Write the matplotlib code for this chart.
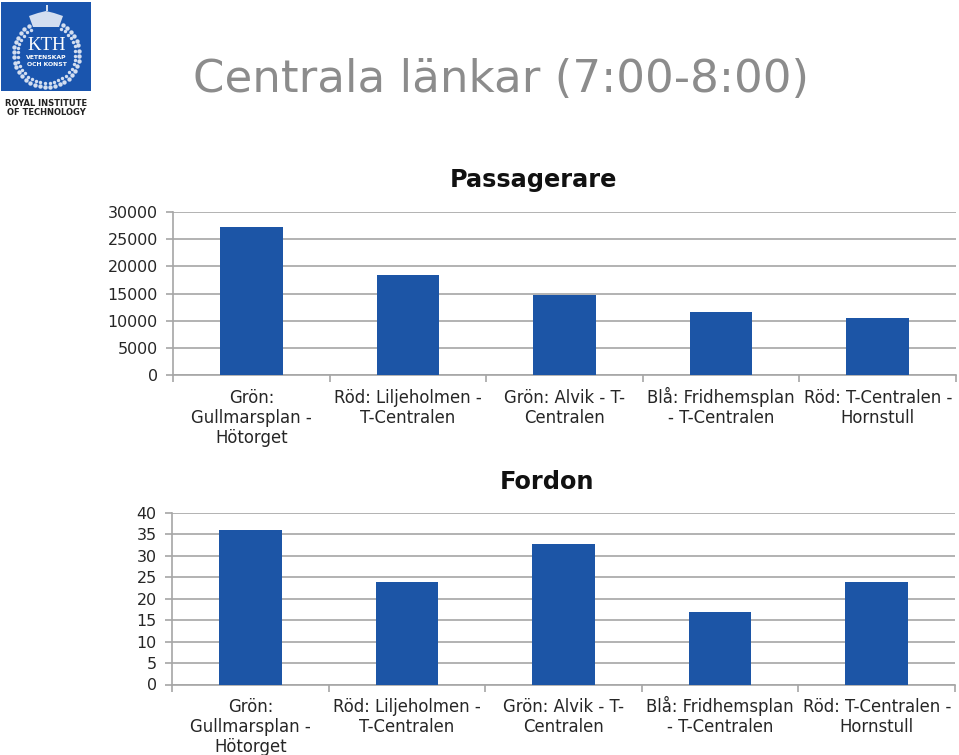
import numpy as np
import matplotlib
matplotlib.use('Agg')
import matplotlib.pyplot as plt
from matplotlib import ticker
from matplotlib.patches import Rectangle, Polygon

W, H = 959, 755

links = [['Grön:', 'Gullmarsplan -', 'Hötorget'], ['Röd: Liljeholmen -', 'T-Centralen'], ['Grön: Alvik - T-', 'Centralen'],
         ['Blå: Fridhemsplan', '- T-Centralen'], ['Röd: T-Centralen -', 'Hornstull']]
passagerare = [27200, 18400, 14700, 11600, 10500]
fordon = [36, 24, 32.8, 17, 24]

blue = '#1c55a6'
grid = '#a6a6a6'
text_col = '#262626'


def make_axes(left, right, top, bottom):
    return fig.add_axes([left / W, 1 - bottom / H, (right - left) / W, (bottom - top) / H])


def bar_panel(ax, values, ymax, step, title, title_x, title_y):
    ax.bar(range(len(values)), values, width=0.4, color=blue, zorder=3)
    ax.set_xlim(-0.5, len(values) - 0.5)
    ax.set_ylim(0, ymax)
    ax.yaxis.set_major_locator(ticker.MultipleLocator(step))
    ax.set_xticks([i - 0.5 for i in range(len(values) + 1)])
    ax.set_xticklabels([])
    ax.tick_params(axis='x', length=5, color=grid, width=1.2)
    ax.tick_params(axis='y', length=5, color=grid, width=1.2, labelsize=11.4, labelcolor=text_col, pad=6)
    ax.grid(axis='y', color=grid, linewidth=1.2, zorder=0)
    ax.set_axisbelow(True)
    for side in ['top', 'right']:
        ax.spines[side].set_visible(False)
    for side in ['left', 'bottom']:
        ax.spines[side].set_color(grid)
        ax.spines[side].set_linewidth(1.2)
    # one text per line so the ring on the å does not move the baselines
    for i, lines in enumerate(links):
        for j, line in enumerate(lines):
            ax.annotate(line, (i, 0), xycoords='data', xytext=(0, -(28 + 20 * j) * 0.72),
                        textcoords='offset points', fontsize=11.9, color=text_col,
                        ha='center', va='baseline', annotation_clip=False)
    fig.text(title_x / W, 1 - title_y / H, title, fontsize=17.3, fontweight='bold', color='#111111',
             ha='center', va='center')


fig = plt.figure(figsize=(W / 100, H / 100), dpi=100)

ax1 = make_axes(173, 956, 212, 375)
bar_panel(ax1, passagerare, 30000, 5000, 'Passagerare', 533, 180)

ax2 = make_axes(172, 955, 513, 684.5)
bar_panel(ax2, fordon, 40, 5, 'Fordon', 547.5, 482)

fig.text(193 / W, 1 - 79 / H, 'Centrala länkar (7:00-8:00)', fontsize=32.5, color='#8c8c8c',
         ha='left', va='center')

# KTH logo
logo = fig.add_axes([0, 0, 1, 1], facecolor='none')
logo.set_xlim(0, W)
logo.set_ylim(H, 0)
logo.axis('off')
light = '#d3def0'
logo.add_patch(Rectangle((1, 2), 90, 89, color='#1a55ae', lw=0))
angles = np.radians(np.arange(-60, 241, 9))
for r, s in [(33, 10), (29, 6)]:
    logo.scatter(46.5 + r * np.cos(angles), 54 + r * np.sin(angles), s=s, color=light, lw=0)
logo.add_patch(Polygon([[33, 27], [29, 16], [38, 13], [46, 11], [54, 13], [63, 16], [59, 27]], color=light, lw=0))
logo.add_patch(Rectangle((45.5, 5), 2, 6, color=light, lw=0))
logo.text(46.5, 45, 'KTH', fontsize=13.5, color='white', family='Liberation Serif', ha='center', va='center')
logo.text(46.5, 57.5, 'VETENSKAP', fontsize=4.4, color='white', fontweight='bold', ha='center', va='center')
logo.text(46.5, 65, 'OCH KONST', fontsize=4.4, color='white', fontweight='bold', ha='center', va='center')
logo.text(46, 104, 'ROYAL INSTITUTE', fontsize=6, color='#222222', fontweight='bold', ha='center', va='center')
logo.text(46, 112.5, 'OF TECHNOLOGY', fontsize=6, color='#222222', fontweight='bold', ha='center', va='center')

fig.savefig('out.png', dpi=100)
